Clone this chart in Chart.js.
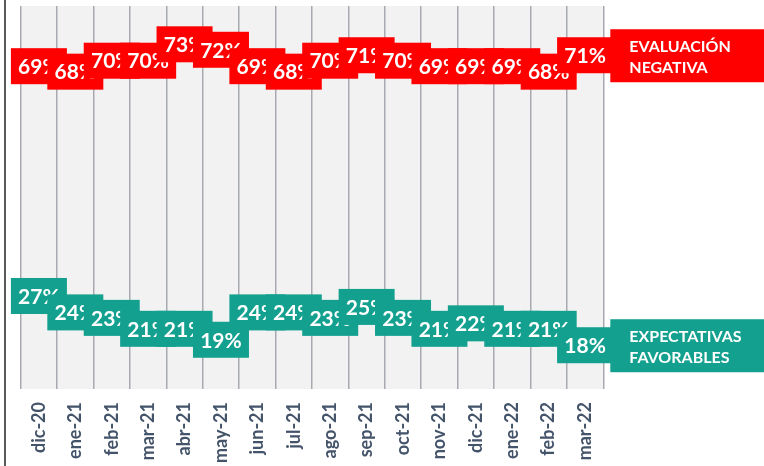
<!DOCTYPE html>
<html lang="es">
<head>
    <meta charset="UTF-8">
    <title>Evaluación negativa vs expectativas favorables</title>
    <script src="https://cdn.jsdelivr.net/npm/chart.js"></script>
    <style>
        body { margin: 0; background: #ffffff; }
        #wrap { position: relative; width: 764px; height: 466px; }
    </style>
</head>
<body>
    <div id="wrap"><canvas id="chart"></canvas></div>

    <script>
        const months = ['dic-20', 'ene-21', 'feb-21', 'mar-21', 'abr-21', 'may-21', 'jun-21', 'jul-21',
            'ago-21', 'sep-21', 'oct-21', 'nov-21', 'dic-21', 'ene-22', 'feb-22', 'mar-22'];
        const negativa = [69, 68, 70, 70, 73, 72, 69, 68, 70, 71, 70, 69, 69, 69, 68, 71];
        const favorables = [27, 24, 23, 21, 21, 19, 24, 24, 23, 25, 23, 21, 22, 21, 21, 18];
        const seriesNames = [['EVALUACIÓN', 'NEGATIVA'], ['EXPECTATIVAS', 'FAVORABLES']];
        const seriesColors = ['#ff0000', '#13a08f'];

        // plot background + left frame line
        const background = {
            id: 'background',
            beforeDraw(chart) {
                const { ctx, chartArea: a } = chart;
                ctx.save();
                ctx.fillStyle = '#f2f2f2';
                ctx.fillRect(a.left, a.top, a.right - a.left, a.bottom - a.top);
                ctx.fillStyle = '#595959';
                ctx.fillRect(4, 0, 2, chart.height);
                ctx.restore();
            }
        };

        // boxed value labels, drawn one after another so later ones overlap
        const boxLabels = {
            id: 'boxLabels',
            afterDatasetsDraw(chart) {
                const { ctx, chartArea: a } = chart;
                ctx.save();
                ctx.textAlign = 'center';
                ctx.textBaseline = 'middle';
                chart.data.datasets.forEach((ds, i) => {
                    const meta = chart.getDatasetMeta(i);
                    meta.data.forEach((pt, j) => {
                        ctx.fillStyle = seriesColors[i];
                        ctx.fillRect(pt.x - 28, pt.y - 18, 56, 36);
                        ctx.fillStyle = '#ffffff';
                        ctx.font = 'bold 21px Lato';
                        ctx.fillText(ds.data[j] + '%', pt.x, pt.y + 1);
                    });
                    // series name box next to the last point
                    const last = meta.data[meta.data.length - 1];
                    const x0 = a.right + 7;
                    ctx.fillStyle = seriesColors[i];
                    ctx.fillRect(x0, last.y - 26, chart.width - x0, 53);
                    ctx.fillStyle = '#ffffff';
                    ctx.font = 'bold 16px Lato';
                    ctx.textAlign = 'left';
                    ctx.textBaseline = 'alphabetic';
                    ctx.fillText(seriesNames[i][0], x0 + 19, last.y - 3);
                    ctx.fillText(seriesNames[i][1], x0 + 19, last.y + 18);
                    ctx.textAlign = 'center';
                    ctx.textBaseline = 'middle';
                });
                ctx.restore();
            }
        };

        new Chart(document.getElementById('chart'), {
            type: 'line',
            data: {
                labels: months,
                datasets: [
                    { label: 'Evaluación negativa', data: negativa, showLine: false, pointRadius: 0 },
                    { label: 'Expectativas favorables', data: favorables, showLine: false, pointRadius: 0 }
                ]
            },
            options: {
                responsive: true,
                maintainAspectRatio: false,
                animation: false,
                layout: { padding: { left: 20.7, right: 160.7, top: 6, bottom: 0 } },
                plugins: { legend: { display: false }, tooltip: { enabled: false } },
                scales: {
                    x: {
                        offset: true,
                        grid: { offset: true, color: '#a7aab0', lineWidth: 1.5, drawTicks: false },
                        border: { display: false },
                        ticks: {
                            autoSkip: false,
                            minRotation: 90,
                            maxRotation: 90,
                            padding: 13,
                            color: '#44546a',
                            font: { family: 'Lato', size: 18, weight: 'bold' }
                        },
                        afterFit(scale) { scale.height = 77; }
                    },
                    y: { display: false, min: 10, max: 80 }
                }
            },
            plugins: [background, boxLabels]
        });
    </script>
</body>
</html>
